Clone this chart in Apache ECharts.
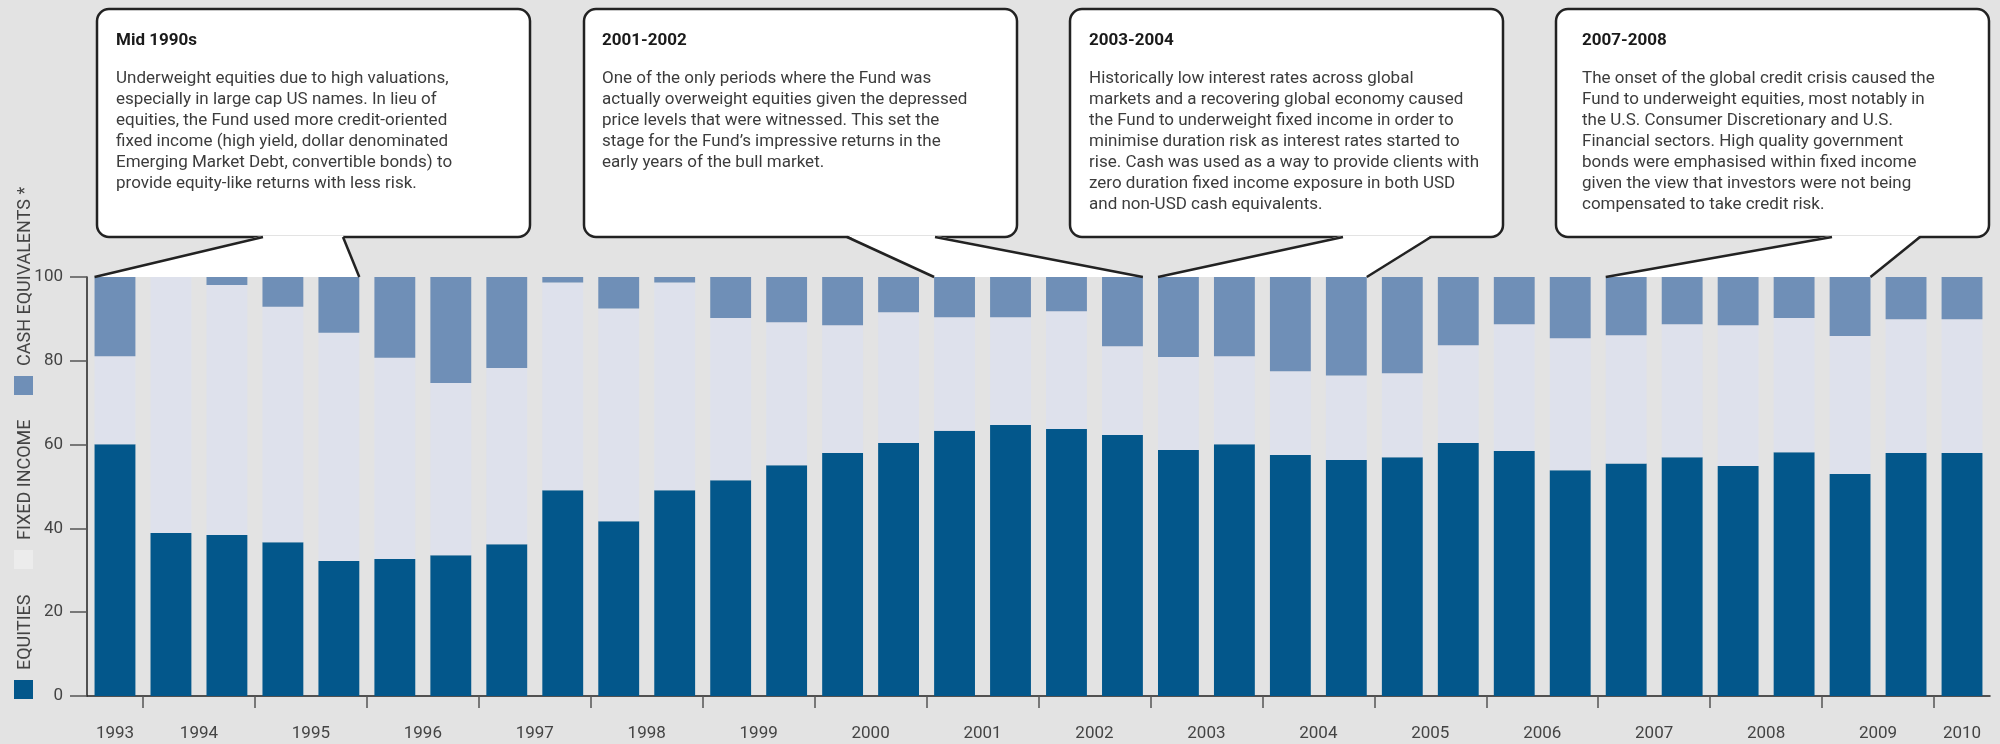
<!DOCTYPE html>
<html>
<head>
<meta charset="utf-8">
<title>Asset allocation 1993-2010</title>
<script src="https://cdn.jsdelivr.net/npm/echarts@6/dist/echarts.min.js"></script>
<style>
  html, body { margin: 0; padding: 0; background: #e3e3e3; }
  #chart { width: 2000px; height: 744px; }
</style>
</head>
<body>
<div id="chart"></div>
<script>
// half-year periods, second half of 1993 to first half of 2010
const periods = [
  '1993 H2',
  '1994 H1', '1994 H2', '1995 H1', '1995 H2', '1996 H1', '1996 H2',
  '1997 H1', '1997 H2', '1998 H1', '1998 H2', '1999 H1', '1999 H2',
  '2000 H1', '2000 H2', '2001 H1', '2001 H2', '2002 H1', '2002 H2',
  '2003 H1', '2003 H2', '2004 H1', '2004 H2', '2005 H1', '2005 H2',
  '2006 H1', '2006 H2', '2007 H1', '2007 H2', '2008 H1', '2008 H2',
  '2009 H1', '2009 H2',
  '2010 H1'
];

const yearLabels = [
  '1993', '1994', '1995', '1996', '1997', '1998', '1999', '2000', '2001',
  '2002', '2003', '2004', '2005', '2006', '2007', '2008', '2009', '2010'
];

// % of portfolio
const equities = [
  60.1, 38.9, 38.4, 36.7, 32.2, 32.7, 33.6, 36.2, 49.1, 41.7, 49.1, 51.5,
  55.1, 58.0, 60.4, 63.3, 64.7, 63.7, 62.3, 58.7, 60.1, 57.5, 56.3, 57.0,
  60.4, 58.5, 53.9, 55.5, 57.0, 54.9, 58.2, 53.0, 58.0, 58.0
];
const fixedIncome = [
  21.0, 61.1, 59.7, 56.2, 54.5, 48.0, 41.1, 42.1, 49.6, 50.8, 49.6, 38.7,
  34.1, 30.5, 31.2, 27.1, 25.7, 28.1, 21.2, 22.2, 21.0, 20.0, 20.2, 20.0,
  23.3, 30.2, 31.5, 30.6, 31.7, 33.6, 32.0, 32.9, 31.9, 31.9
];
const cash = [
  18.9, 0, 1.9, 7.1, 13.3, 19.3, 25.3, 22.0, 1.3, 7.5, 1.3, 9.8,
  10.8, 11.8, 8.4, 9.6, 9.6, 8.2, 16.5, 19.1, 18.9, 22.5, 23.5, 23.0,
  16.3, 11.3, 14.9, 13.9, 11.3, 11.5, 9.8, 14.1, 10.1, 10.1
];

const notes = [
  {
    title: 'Mid 1990s',
    lines: [
      'Underweight equities due to high valuations,',
      'especially in large cap US names. In lieu of',
      'equities, the Fund used more credit-oriented',
      'fixed income (high yield, dollar denominated',
      'Emerging Market Debt, convertible bonds) to',
      'provide equity-like returns with less risk.'
    ],
    from: '1993 H2', to: '1995 H2'
  },
  {
    title: '2001-2002',
    lines: [
      'One of the only periods where the Fund was',
      'actually overweight equities given the depressed',
      'price levels that were witnessed. This set the',
      'stage for the Fund\u2019s impressive returns in the',
      'early years of the bull market.'
    ],
    from: '2001 H1', to: '2002 H2'
  },
  {
    title: '2003-2004',
    lines: [
      'Historically low interest rates across global',
      'markets and a recovering global economy caused',
      'the Fund to underweight fixed income in order to',
      'minimise duration risk as interest rates started to',
      'rise. Cash was used as a way to provide clients with',
      'zero duration fixed income exposure in both USD',
      'and non-USD cash equivalents.'
    ],
    from: '2003 H1', to: '2004 H2'
  },
  {
    title: '2007-2008',
    lines: [
      'The onset of the global credit crisis caused the',
      'Fund to underweight equities, most notably in',
      'the U.S. Consumer Discretionary and U.S.',
      'Financial sectors. High quality government',
      'bonds were emphasised within fixed income',
      'given the view that investors were not being',
      'compensated to take credit risk.'
    ],
    from: '2007 H1', to: '2009 H1'
  }
];

// callout layout (pixels)
const boxes = [
  { x: 97, pad: 19, tail: [166, 246] },
  { x: 584, pad: 18, tail: [263, 351] },
  { x: 1070, pad: 19, tail: [273, 361] },
  { x: 1556, pad: 26, tail: [276, 364] }
];
const boxTop = 9, boxW = 433, boxH = 228;

const colors = {
  equities: '#03578b',
  fixedIncome: '#dee1ec',
  cash: '#6f8fb7',
  ink: '#222222',
  text: '#444444'
};
const font = 'Roboto, "Noto Sans", sans-serif';
const barGap = 0.27;

// second axis: half-band steps so ticks sit between year pairs and labels between ticks
const labelSlots = [];
for (let j = 0; j <= periods.length * 2; j++) labelSlots.push('');
labelSlots[1] = yearLabels[0];
for (let k = 1; k < yearLabels.length - 1; k++) labelSlots[4 * k] = yearLabels[k];
labelSlots[periods.length * 2 - 1] = yearLabels[yearLabels.length - 1];

const chart = echarts.init(document.getElementById('chart'));

const stackSeries = [
  { name: 'Equities', data: equities, color: colors.equities },
  { name: 'Fixed income', data: fixedIncome, color: colors.fixedIncome },
  { name: 'Cash equivalents', data: cash, color: colors.cash }
].map(s => ({
  type: 'bar',
  name: s.name,
  stack: 'total',
  data: s.data,
  barCategoryGap: barGap * 100 + '%',
  itemStyle: { color: s.color },
  emphasis: { disabled: true }
}));

chart.setOption({
  animation: false,
  backgroundColor: '#e3e3e3',
  textStyle: { fontFamily: font },
  grid: { left: 87, right: 10, top: 277, bottom: 48, outerBoundsMode: 'none' },
  xAxis: [
    {
      type: 'category',
      data: periods,
      axisLine: { lineStyle: { color: colors.ink, width: 1.5 } },
      axisTick: { show: false },
      axisLabel: { show: false }
    },
    {
      type: 'category',
      position: 'bottom',
      boundaryGap: false,
      data: labelSlots.map((_, j) => 's' + j),
      axisLine: { show: false },
      axisTick: {
        interval: idx => idx % 4 === 2,
        length: 12,
        lineStyle: { color: '#555', width: 1.5 }
      },
      axisLabel: {
        interval: idx => labelSlots[idx] !== '',
        formatter: (val, idx) => labelSlots[idx],
        margin: 29,
        fontSize: 17,
        color: colors.text
      }
    }
  ],
  yAxis: {
    type: 'value',
    min: 0,
    max: 100,
    interval: 20,
    axisLine: { show: true, lineStyle: { color: colors.ink, width: 1.5 } },
    axisTick: { show: true, length: 17, lineStyle: { color: '#555', width: 1.5 } },
    axisLabel: { margin: 24, fontSize: 17, color: colors.text },
    splitLine: { show: false }
  },
  series: stackSeries
});

function buildGraphic() {
  const yTop = chart.convertToPixel({ yAxisIndex: 0 }, 100);
  const c0 = chart.convertToPixel({ xAxisIndex: 0 }, periods[0]);
  const c1 = chart.convertToPixel({ xAxisIndex: 0 }, periods[1]);
  const halfBar = (c1 - c0) * (1 - barGap) / 2;
  const boxBottom = boxTop + boxH;
  const els = [];

  notes.forEach((note, i) => {
    const b = boxes[i];
    const tipL = chart.convertToPixel({ xAxisIndex: 0 }, note.from) - halfBar;
    const tipR = chart.convertToPixel({ xAxisIndex: 0 }, note.to) + halfBar;
    const ax = b.x + b.tail[0];
    const bx = b.x + b.tail[1];
    els.push({
      type: 'rect', z: 10,
      shape: { x: b.x, y: boxTop, width: boxW, height: boxH, r: 12 },
      style: { fill: '#fff', stroke: colors.ink, lineWidth: 2.5 }
    });
    els.push({
      type: 'polygon', z: 11,
      shape: { points: [[ax, boxBottom - 1.6], [bx, boxBottom - 1.6], [tipR, yTop], [tipL, yTop]] },
      style: { fill: '#fff' }
    });
    els.push({
      type: 'polyline', z: 12,
      shape: { points: [[ax, boxBottom], [tipL, yTop]] },
      style: { stroke: colors.ink, lineWidth: 2.5, fill: null }
    });
    els.push({
      type: 'polyline', z: 12,
      shape: { points: [[bx, boxBottom], [tipR, yTop]] },
      style: { stroke: colors.ink, lineWidth: 2.5, fill: null }
    });
    els.push({
      type: 'text', z: 13,
      style: {
        x: b.x + b.pad, y: 32, text: note.title,
        font: 'bold 17px ' + font, fill: '#1a1a1a'
      }
    });
    els.push({
      type: 'text', z: 13,
      style: {
        x: b.x + b.pad, y: 68, text: note.lines.join('\n'),
        font: '17px ' + font, lineHeight: 21, fill: '#3c3c3c'
      }
    });
  });

  // vertical legend on the left
  const legend = [
    { name: 'EQUITIES', color: colors.equities, sq: 680 },
    { name: 'FIXED INCOME', color: '#ececec', sq: 550 },
    { name: 'CASH EQUIVALENTS *', color: colors.cash, sq: 376 }
  ];
  legend.forEach(item => {
    els.push({
      type: 'rect',
      shape: { x: 14, y: item.sq, width: 19, height: 19 },
      style: { fill: item.color }
    });
    els.push({
      type: 'text',
      x: 25, y: item.sq - 10, rotation: Math.PI / 2,
      style: {
        text: item.name, font: '18px ' + font, fill: colors.text,
        align: 'left', verticalAlign: 'middle'
      }
    });
  });
  return els;
}

chart.setOption({ graphic: buildGraphic() });
</script>
</body>
</html>
